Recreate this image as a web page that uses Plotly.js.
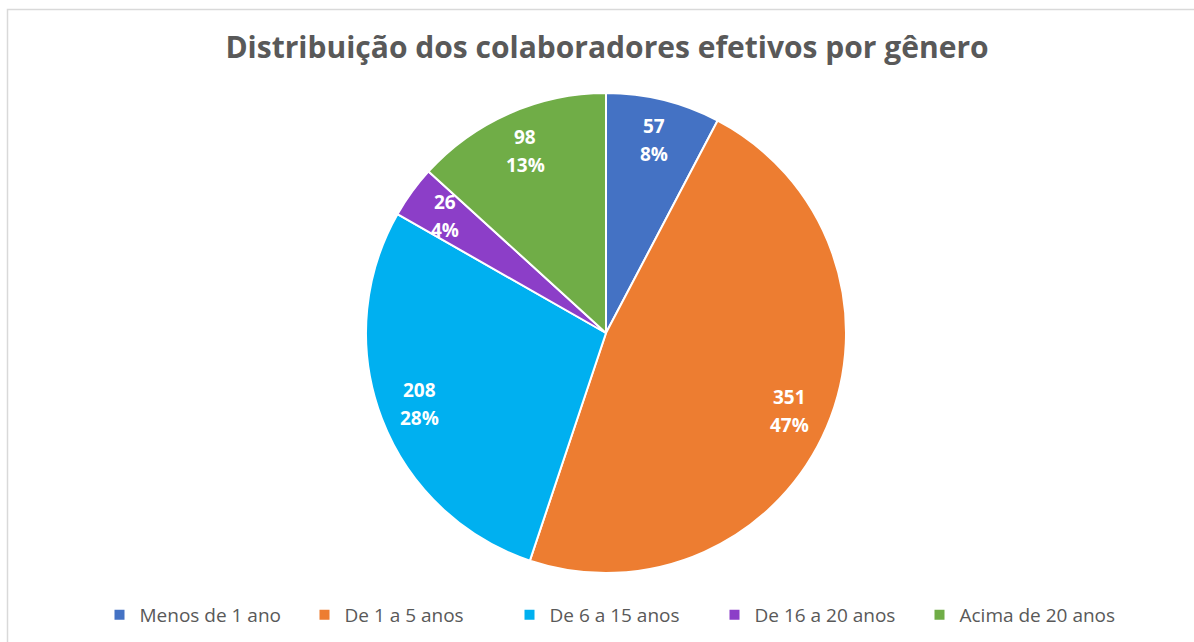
<!DOCTYPE html>
<html>
<head>
<meta charset="utf-8">
<script src="https://cdn.plot.ly/plotly-3.0.1.min.js"></script>
<style>
  html, body { margin: 0; padding: 0; background: #ffffff; }
  #chart { width: 1194px; height: 642px; }
</style>
</head>
<body>
<div id="chart"></div>
<script>
const categories = ["Menos de 1 ano", "De 1 a 5 anos", "De 6 a 15 anos", "De 16 a 20 anos", "Acima de 20 anos"];
const values = [57, 351, 208, 26, 98];
const colors = ["#4472C4", "#ED7D31", "#00B0F0", "#8C3EC8", "#70AD47"];
const chartTitle = "Distribuição dos colaboradores efetivos por gênero";

const W = 1194, H = 642;
const cx = 606, cy = 333, R = 240;
const labelRadiusFrac = 0.83;

const domain = {
  x: [(cx - R) / W, (cx + R) / W],
  y: [1 - (cy + R) / H, 1 - (cy - R) / H]
};

const trace = {
  type: "pie",
  labels: categories,
  values: values,
  sort: false,
  direction: "clockwise",
  rotation: 0,
  marker: { colors: colors, line: { color: "#ffffff", width: 2 } },
  textinfo: "none",
  hoverinfo: "label+value+percent",
  domain: domain
};

// Data labels placed along each slice's mid-angle (Excel-style, ~0.83 R)
const total = values.reduce((a, b) => a + b, 0);
const annotations = [];
let cum = 0;
values.forEach((v, i) => {
  const theta = 2 * Math.PI * (cum + v / 2) / total;
  cum += v;
  const px = cx + labelRadiusFrac * R * Math.sin(theta);
  const py = cy - labelRadiusFrac * R * Math.cos(theta);
  const pct = Math.round(100 * v / total) + "%";
  const base = {
    xref: "paper", yref: "paper",
    x: px / W, y: 1 - py / H,
    showarrow: false,
    xanchor: "center", yanchor: "middle",
    font: { family: "Open Sans, sans-serif", size: 19, color: "#ffffff", weight: 700 }
  };
  annotations.push(Object.assign({}, base, { text: String(v), yshift: 14 }));
  annotations.push(Object.assign({}, base, { text: pct, yshift: -14 }));
});

const layout = {
  width: W, height: H,
  margin: { l: 0, r: 0, t: 0, b: 0 },
  paper_bgcolor: "#ffffff",
  title: {
    text: chartTitle,
    font: { family: "Open Sans, sans-serif", size: 30, color: "#595959", weight: 700 },
    x: 607 / W, xanchor: "center",
    y: 1 - 47 / H, yanchor: "middle", yref: "container"
  },
  showlegend: true,
  legend: {
    orientation: "h",
    x: 612 / W, xanchor: "center",
    y: 1 - 615 / H, yanchor: "middle",
    font: { family: "Open Sans, sans-serif", size: 19, color: "#595959" },
    entrywidth: 160, entrywidthmode: "pixels",
    itemclick: false, itemdoubleclick: false,
    traceorder: "normal"
  },
  annotations: annotations,
  shapes: [{
    type: "rect", xref: "paper", yref: "paper",
    x0: 7.5 / W, x1: 1.05, y0: -0.05, y1: 1 - 9.5 / H,
    line: { color: "#D9D9D9", width: 1.5 }, fillcolor: "rgba(0,0,0,0)", layer: "below"
  }]
};

Plotly.newPlot("chart", [trace], layout, { displayModeBar: false, staticPlot: true });
</script>
</body>
</html>
